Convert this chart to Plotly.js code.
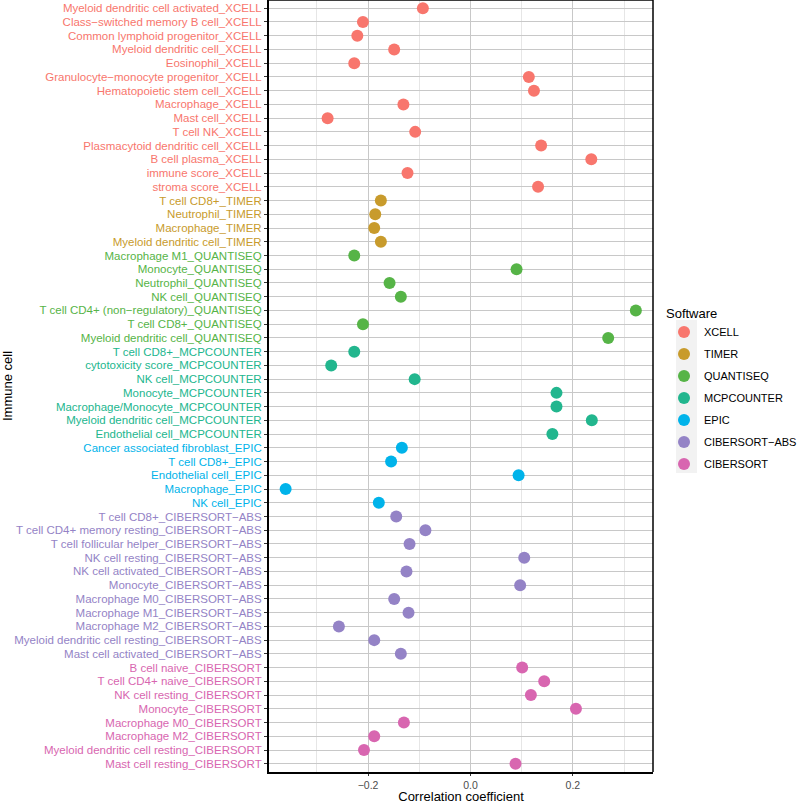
<!DOCTYPE html>
<html>
<head>
<meta charset="utf-8">
<script src="https://cdn.plot.ly/plotly-3.0.1.min.js"></script>
<style>
  html, body { margin: 0; padding: 0; background: white; }
  #chart { width: 800px; height: 804px; }
</style>
</head>
<body>
<div id="chart"></div>
<script>
// immune cell labels, top to bottom
const cells = [
    'Myeloid dendritic cell activated_XCELL', 'Class\u2212switched memory B cell_XCELL',
    'Common lymphoid progenitor_XCELL', 'Myeloid dendritic cell_XCELL', 'Eosinophil_XCELL',
    'Granulocyte\u2212monocyte progenitor_XCELL', 'Hematopoietic stem cell_XCELL', 'Macrophage_XCELL',
    'Mast cell_XCELL', 'T cell NK_XCELL', 'Plasmacytoid dendritic cell_XCELL', 'B cell plasma_XCELL',
    'immune score_XCELL', 'stroma score_XCELL',
    'T cell CD8+_TIMER', 'Neutrophil_TIMER', 'Macrophage_TIMER', 'Myeloid dendritic cell_TIMER',
    'Macrophage M1_QUANTISEQ', 'Monocyte_QUANTISEQ', 'Neutrophil_QUANTISEQ', 'NK cell_QUANTISEQ',
    'T cell CD4+ (non\u2212regulatory)_QUANTISEQ', 'T cell CD8+_QUANTISEQ', 'Myeloid dendritic cell_QUANTISEQ',
    'T cell CD8+_MCPCOUNTER', 'cytotoxicity score_MCPCOUNTER', 'NK cell_MCPCOUNTER', 'Monocyte_MCPCOUNTER',
    'Macrophage/Monocyte_MCPCOUNTER', 'Myeloid dendritic cell_MCPCOUNTER', 'Endothelial cell_MCPCOUNTER',
    'Cancer associated fibroblast_EPIC', 'T cell CD8+_EPIC', 'Endothelial cell_EPIC', 'Macrophage_EPIC',
    'NK cell_EPIC',
    'T cell CD8+_CIBERSORT\u2212ABS', 'T cell CD4+ memory resting_CIBERSORT\u2212ABS',
    'T cell follicular helper_CIBERSORT\u2212ABS', 'NK cell resting_CIBERSORT\u2212ABS',
    'NK cell activated_CIBERSORT\u2212ABS', 'Monocyte_CIBERSORT\u2212ABS', 'Macrophage M0_CIBERSORT\u2212ABS',
    'Macrophage M1_CIBERSORT\u2212ABS', 'Macrophage M2_CIBERSORT\u2212ABS',
    'Myeloid dendritic cell resting_CIBERSORT\u2212ABS', 'Mast cell activated_CIBERSORT\u2212ABS',
    'B cell naive_CIBERSORT', 'T cell CD4+ naive_CIBERSORT', 'NK cell resting_CIBERSORT',
    'Monocyte_CIBERSORT', 'Macrophage M0_CIBERSORT', 'Macrophage M2_CIBERSORT',
    'Myeloid dendritic cell resting_CIBERSORT', 'Mast cell resting_CIBERSORT'
];

// software of each cell
const software = [
    'XCELL', 'XCELL', 'XCELL', 'XCELL', 'XCELL', 'XCELL', 'XCELL', 'XCELL', 'XCELL', 'XCELL',
    'XCELL', 'XCELL', 'XCELL', 'XCELL',
    'TIMER', 'TIMER', 'TIMER', 'TIMER',
    'QUANTISEQ', 'QUANTISEQ', 'QUANTISEQ', 'QUANTISEQ', 'QUANTISEQ', 'QUANTISEQ', 'QUANTISEQ',
    'MCPCOUNTER', 'MCPCOUNTER', 'MCPCOUNTER', 'MCPCOUNTER', 'MCPCOUNTER', 'MCPCOUNTER', 'MCPCOUNTER',
    'EPIC', 'EPIC', 'EPIC', 'EPIC', 'EPIC',
    'CIBERSORT-ABS', 'CIBERSORT-ABS', 'CIBERSORT-ABS', 'CIBERSORT-ABS', 'CIBERSORT-ABS', 'CIBERSORT-ABS',
    'CIBERSORT-ABS', 'CIBERSORT-ABS', 'CIBERSORT-ABS', 'CIBERSORT-ABS', 'CIBERSORT-ABS',
    'CIBERSORT', 'CIBERSORT', 'CIBERSORT', 'CIBERSORT', 'CIBERSORT', 'CIBERSORT', 'CIBERSORT', 'CIBERSORT'
];

// correlation coefficient of each cell
const corr = [
    -0.093, -0.210, -0.221, -0.149, -0.227, 0.114, 0.124, -0.131, -0.279, -0.108, 0.138, 0.236, -0.123, 0.132,
    -0.175, -0.186, -0.188, -0.175,
    -0.227, 0.090, -0.158, -0.136, 0.323, -0.210, 0.269,
    -0.227, -0.272, -0.109, 0.168, 0.168, 0.237, 0.160,
    -0.134, -0.155, 0.094, -0.361, -0.179,
    -0.145, -0.088, -0.119, 0.105, -0.125, 0.097, -0.149, -0.121, -0.257, -0.188, -0.136,
    0.101, 0.144, 0.118, 0.206, -0.130, -0.188, -0.208, 0.088
];

const softwareNames = ['XCELL', 'TIMER', 'QUANTISEQ', 'MCPCOUNTER', 'EPIC', 'CIBERSORT-ABS', 'CIBERSORT'];
const softwareLabels = ['XCELL', 'TIMER', 'QUANTISEQ', 'MCPCOUNTER', 'EPIC', 'CIBERSORT\u2212ABS', 'CIBERSORT'];
const softwareColors = ['#F8766D', '#C89B2C', '#56B447', '#22B68E', '#00B3EA', '#9483C6', '#D866B0'];

const colorOf = {};
softwareNames.forEach((s, i) => { colorOf[s] = softwareColors[i]; });

const traces = softwareNames.map((s, i) => {
    const idx = software.map((v, k) => v === s ? k : -1).filter(k => k >= 0);
    return {
        x: idx.map(k => corr[k]),
        y: idx.map(k => cells[k]),
        type: 'scatter',
        mode: 'markers',
        name: softwareLabels[i],
        legendgroup: s,
        marker: { size: 12, color: softwareColors[i] },
        cliponaxis: false
    };
});

const tickText = cells.map((c, k) => '<span style="fill:' + colorOf[software[k]] + '">' + c + '</span>');

// pixel helpers for the legend key background (plot area 269..653 x, 0..772 y)
const px = v => (v - 269) / 384;
const py = v => (772 - v) / 772;

const layout = {
    width: 800,
    height: 804,
    margin: { l: 269, r: 147, t: 0, b: 32 },
    paper_bgcolor: 'white',
    plot_bgcolor: 'white',
    font: { family: 'Liberation Sans, Arial, sans-serif', size: 11, color: '#000' },
    showlegend: true,
    xaxis: {
        range: [-0.3935, 0.3565],
        tick0: 0,
        dtick: 0.2,
        tickformat: '.1f',
        ticks: 'outside',
        ticklen: 2,
        tickcolor: '#333',
        tickfont: { size: 10.5, color: '#4D4D4D' },
        showgrid: true,
        gridcolor: '#C8C8C8',
        gridwidth: 1,
        minor: { dtick: 0.1, showgrid: true, gridcolor: '#E6E6E6', gridwidth: 1 },
        zeroline: false,
        showline: true,
        linecolor: '#000',
        linewidth: 2,
        title: { text: 'Correlation coefficient', font: { size: 13, color: '#000' }, standoff: 0 }
    },
    yaxis: {
        type: 'category',
        categoryorder: 'array',
        categoryarray: cells,
        range: [cells.length - 0.4, -0.6],
        tickvals: cells,
        ticktext: tickText,
        ticks: 'outside',
        ticklen: 3,
        tickcolor: '#333',
        tickfont: { size: 11.5 },
        showgrid: true,
        gridcolor: '#C8C8C8',
        gridwidth: 1,
        zeroline: false,
        showline: true,
        linecolor: '#000',
        linewidth: 2,
        title: { text: 'Immune cell', font: { size: 13, color: '#000' }, standoff: 1 }
    },
    legend: {
        xref: 'container',
        yref: 'container',
        x: 0.83,
        xanchor: 'left',
        y: 0.626,
        yanchor: 'top',
        tracegroupgap: 3,
        font: { size: 11, color: '#000' },
        title: { text: 'Software', font: { size: 13, color: '#000' } },
        bgcolor: 'rgba(0,0,0,0)'
    },
    shapes: [
        // right and top panel border
        { type: 'line', xref: 'paper', yref: 'paper', x0: 1, x1: 1, y0: 0, y1: 1,
          line: { color: '#000', width: 1.5 } },
        { type: 'line', xref: 'paper', yref: 'paper', x0: 0, x1: 1, y0: 1, y1: 1,
          line: { color: '#000', width: 1.5 } },
        // grey legend key background
        { type: 'rect', xref: 'paper', yref: 'paper', layer: 'below',
          x0: px(676), x1: px(697), y0: py(473), y1: py(320),
          fillcolor: '#F2F2F2', line: { width: 0 } }
    ]
};

Plotly.newPlot('chart', traces, layout, { displayModeBar: false, responsive: false });
</script>
</body>
</html>
